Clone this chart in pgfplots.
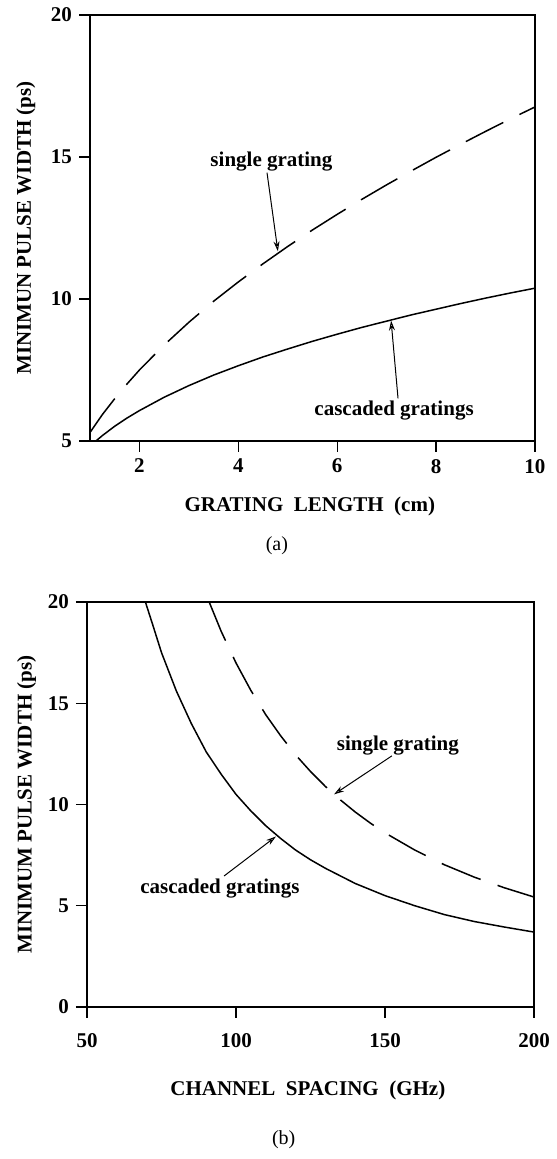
\documentclass[border=0pt]{standalone}
\usepackage{fontspec}
\setmainfont{Liberation Serif}
\usepackage{pgfplots}
\pgfplotsset{compat=1.18}
\usetikzlibrary{arrows.meta}
\begin{document}
\begin{tikzpicture}
\path (0pt,0pt) rectangle (274pt,579.5pt);
\pgfplotsset{
  myax/.style={
    scale only axis,
    clip mode=individual,
    axis line style={line width=0.7pt},
    tick align=outside,
    tick pos=left,
    major tick length=5.5pt,
    tick style={line width=0.7pt, black},
    ticklabel style={font=\fontsize{10.5}{12}\selectfont\bfseries},
    label style={font=\fontsize{10.5}{12}\selectfont\bfseries},
    /pgf/number format/assume math mode=true,
  },
  dsh/.style={black, no marks, line width=0.75pt, dash pattern=on 21pt off 9pt},
  sld/.style={black, no marks, line width=0.75pt},
}
% ---------------- (a) ----------------
\begin{axis}[myax,
  at={(45pt,359pt)}, anchor=south west,
  width=222.5pt, height=213pt,
  xmin=1, xmax=10, ymin=5, ymax=20,
  xtick={2,4,6,8,10}, ytick={5,10,15,20},
  xlabel={GRATING\ \ LENGTH\ \ (cm)},
  ylabel={MINIMUN PULSE WIDTH (ps)},
  xlabel style={at={(axis description cs:0.494,-0.153)}, anchor=center},
  ylabel style={at={(axis description cs:-0.144,0.5)}, anchor=center},
]
\addplot[dsh] coordinates {
(1,5.30) (1.25,5.93) (1.5,6.49) (1.75,7.01) (2,7.50) (2.5,8.38) (3,9.18) (3.5,9.92)
(4,10.60) (4.5,11.24) (5,11.85) (5.5,12.43) (6,12.98) (6.5,13.51) (7,14.02)
(7.5,14.51) (8,14.99) (8.5,15.45) (9,15.90) (9.5,16.34) (10,16.76)};
\addplot[sld] coordinates {
(1.12,5.00) (1.25,5.19) (1.5,5.52) (1.75,5.81) (2,6.07) (2.5,6.54) (3,6.95) (3.5,7.32)
(4,7.65) (4.5,7.96) (5,8.24) (5.5,8.51) (6,8.76) (6.5,9.00) (7,9.22) (7.5,9.44)
(8,9.64) (8.5,9.84) (9,10.03) (9.5,10.21) (10,10.38)};
\node[font=\fontsize{10.5}{12}\selectfont\bfseries] at (axis cs:4.67,14.85) {single grating};
\draw[line width=0.5pt, -{Stealth[length=5pt,width=3pt,open]}] (axis cs:4.58,14.45) -- (axis cs:4.80,11.68);
\node[font=\fontsize{10.5}{12}\selectfont\bfseries] at (axis cs:7.15,6.07) {cascaded gratings};
\draw[line width=0.5pt, -{Stealth[length=5pt,width=3pt,open]}] (axis cs:7.23,6.50) -- (axis cs:7.09,9.24);
\node[font=\fontsize{10}{12}\selectfont] at (axis description cs:0.42,-0.246) {(a)};
\end{axis}
% ---------------- (b) ----------------
\begin{axis}[myax,
  at={(43.5pt,76pt)}, anchor=south west,
  width=223.5pt, height=202.5pt,
  xmin=50, xmax=200, ymin=0, ymax=20,
  xtick={50,100,150,200}, ytick={0,5,10,15,20},
  xticklabel style={yshift=-4pt},
  xlabel={CHANNEL\ \ SPACING\ \ (GHz)},
  ylabel={MINIMUM PULSE WIDTH (ps)},
  xlabel style={at={(axis description cs:0.494,-0.205)}, anchor=center},
  ylabel style={at={(axis description cs:-0.135,0.5)}, anchor=center},
]
\addplot[dsh] coordinates {
(91,20.00) (95,18.56) (100,16.99) (105,15.63) (110,14.43) (115,13.39) (120,12.45)
(125,11.63) (130,10.89) (135,10.23) (140,9.63) (145,9.09) (150,8.60) (160,7.75)
(170,7.02) (180,6.41) (190,5.89) (200,5.43)};
\addplot[sld] coordinates {
(69.6,20.00) (72,18.90) (75,17.50) (80,15.60) (85,14.00) (90,12.60) (95,11.50)
(100,10.50) (105,9.68) (110,8.95) (115,8.32) (120,7.75) (125,7.27) (130,6.85)
(140,6.10) (150,5.50) (160,5.00) (170,4.56) (180,4.22) (190,3.95) (200,3.70)};
\node[font=\fontsize{10.5}{12}\selectfont\bfseries] at (axis cs:154.3,12.93) {single grating};
\draw[line width=0.5pt, -{Stealth[length=5pt,width=3pt,open]}] (axis cs:152.3,12.40) -- (axis cs:132.9,10.50);
\node[font=\fontsize{10.5}{12}\selectfont\bfseries] at (axis cs:94.6,5.83) {cascaded gratings};
\draw[line width=0.5pt, -{Stealth[length=5pt,width=3pt,open]}] (axis cs:96,6.47) -- (axis cs:113.4,8.42);
\node[font=\fontsize{10}{12}\selectfont] at (axis description cs:0.44,-0.328) {(b)};
\end{axis}
\end{tikzpicture}
\end{document}
